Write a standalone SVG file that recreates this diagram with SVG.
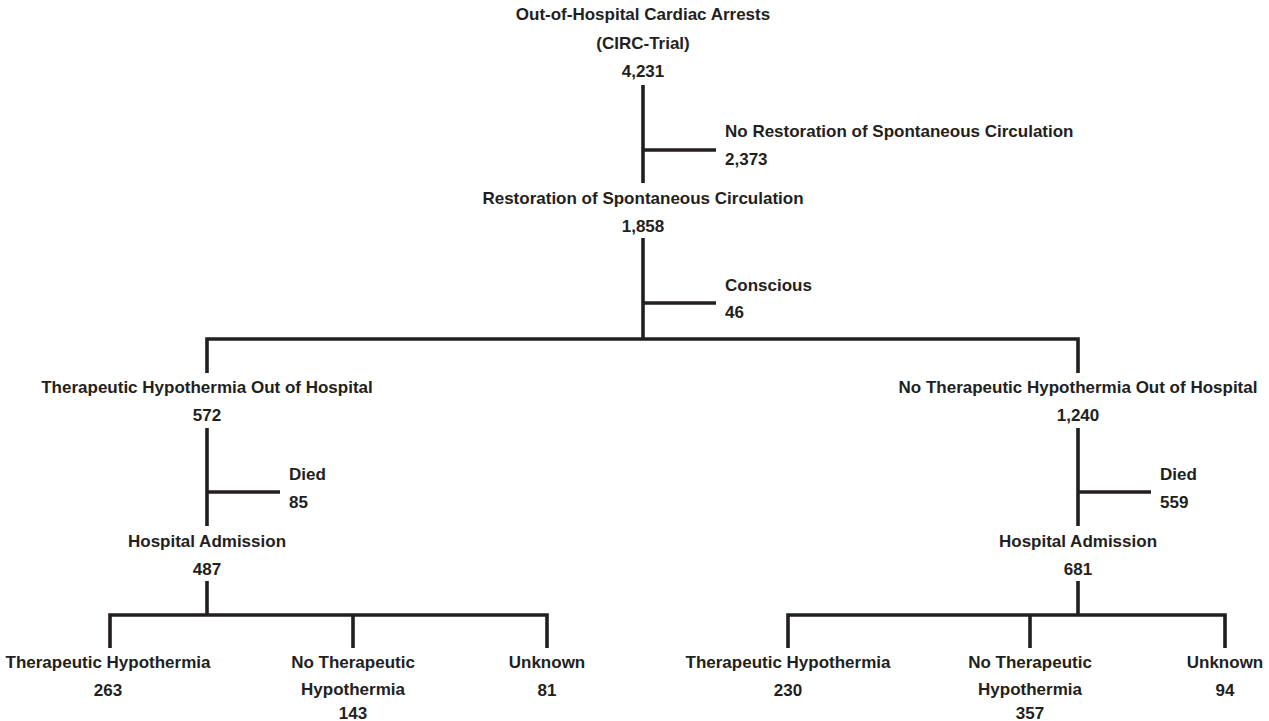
<svg xmlns="http://www.w3.org/2000/svg" width="1269" height="721" viewBox="0 0 1269 721">
<style>
text{font-family:"Liberation Sans",Arial,sans-serif;font-weight:bold;font-size:17px;fill:#231f20}
.c{text-anchor:middle}
.l{text-anchor:start}
#connectors path{fill:none;stroke:#231f20;stroke-width:3.6;stroke-linecap:butt;stroke-linejoin:miter}
</style>
<rect width="1269" height="721" fill="#ffffff"/>
<g id="connectors">
<path d="M643 85V183"/>
<path d="M643 150H716"/>
<path d="M643 238V339"/>
<path d="M643 303H716"/>
<path d="M207 373V339H1078V373"/>
<path d="M207 428V526"/>
<path d="M207 492H280"/>
<path d="M207 581V615"/>
<path d="M110 648V615H547V648"/>
<path d="M353 615V648"/>
<path d="M1078 428V526"/>
<path d="M1078 492H1151"/>
<path d="M1078 581V615"/>
<path d="M788 648V615H1225V648"/>
<path d="M1030 615V648"/>
</g>
<g id="n-root"><text class="c" x="643" y="20">Out-of-Hospital Cardiac Arrests</text><text class="c" x="643" y="49">(CIRC-Trial)</text><text class="c" x="643" y="77">4,231</text></g>
<g id="n-norosc"><text class="l" x="725" y="137">No Restoration of Spontaneous Circulation</text><text class="l" x="725" y="165">2,373</text></g>
<g id="n-rosc"><text class="c" x="643" y="204">Restoration of Spontaneous Circulation</text><text class="c" x="643" y="232">1,858</text></g>
<g id="n-conscious"><text class="l" x="725" y="291">Conscious</text><text class="l" x="725" y="318">46</text></g>
<g id="n-th"><text class="c" x="207" y="393">Therapeutic Hypothermia Out of Hospital</text><text class="c" x="207" y="421">572</text></g>
<g id="n-noth"><text class="c" x="1078" y="393">No Therapeutic Hypothermia Out of Hospital</text><text class="c" x="1078" y="421">1,240</text></g>
<g id="n-died-l"><text class="l" x="289" y="480">Died</text><text class="l" x="289" y="508">85</text></g>
<g id="n-died-r"><text class="l" x="1160" y="480">Died</text><text class="l" x="1160" y="508">559</text></g>
<g id="n-adm-l"><text class="c" x="207" y="547">Hospital Admission</text><text class="c" x="207" y="575">487</text></g>
<g id="n-adm-r"><text class="c" x="1078" y="547">Hospital Admission</text><text class="c" x="1078" y="575">681</text></g>
<g id="n-l-th"><text class="c" x="108" y="668">Therapeutic Hypothermia</text><text class="c" x="108" y="696">263</text></g>
<g id="n-l-noth"><text class="c" x="353" y="668">No Therapeutic</text><text class="c" x="353" y="695">Hypothermia</text><text class="c" x="353" y="719">143</text></g>
<g id="n-l-unk"><text class="c" x="547" y="668">Unknown</text><text class="c" x="547" y="696">81</text></g>
<g id="n-r-th"><text class="c" x="788" y="668">Therapeutic Hypothermia</text><text class="c" x="788" y="696">230</text></g>
<g id="n-r-noth"><text class="c" x="1030" y="668">No Therapeutic</text><text class="c" x="1030" y="695">Hypothermia</text><text class="c" x="1030" y="719">357</text></g>
<g id="n-r-unk"><text class="c" x="1225" y="668">Unknown</text><text class="c" x="1225" y="696">94</text></g>
</svg>
